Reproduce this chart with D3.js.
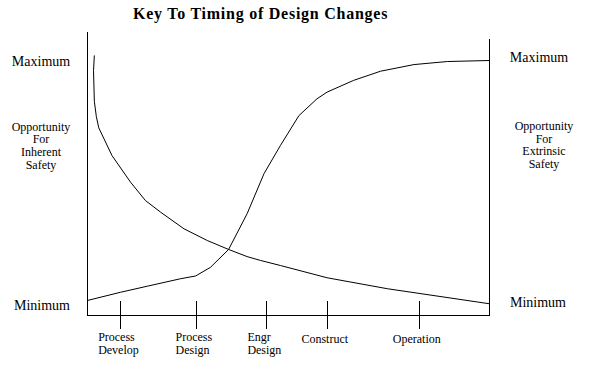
<!DOCTYPE html>
<html>
<head>
<meta charset="utf-8">
<script src="https://cdn.jsdelivr.net/npm/d3@7"></script>
<style>
    body { margin: 0; background: #fff; }
    svg { display: block; }
</style>
</head>
<body>
<svg></svg>
<script>
const width = 595;
const height = 372;

// Phase of the project, 0 = start of process development, 100 = end of operation
// Opportunity level, 0 = Minimum, 100 = Maximum
const inherent_x = [1.7, 1.5, 1.6, 1.7, 2.2, 2.8, 6.1, 10.7, 14.4, 18.2, 24.0, 29.8, 35.1, 39.7, 43.0, 48.0, 59.6, 74.6, 100];
const inherent_y = [102, 96, 90, 84, 78, 73.6, 62.7, 52.3, 45.1, 40.5, 34.0, 29.4, 25.9, 23.1, 21.6, 19.6, 14.8, 10.5, 4.6];

const extrinsic_x = [0, 8.2, 14.9, 23.1, 26.9, 30.6, 35.1, 39.7, 43.9, 48.0, 52.6, 57.1, 59.6, 66.2, 72.9, 81.2, 89.5, 100];
const extrinsic_y = [5.9, 9.1, 11.5, 14.4, 15.5, 18.9, 25.9, 39.9, 55.6, 66.7, 78.4, 85.0, 87.6, 92.2, 95.8, 98.4, 99.6, 100];

// Project phases along the bottom
const phase_values = [8.2, 27.0, 44.5, 59.6, 82.4];
const phase_labels = [["Process", "Develop"], ["Process", "Design"], ["Engr", "Design"], ["Construct"], ["Operation"]];

const side_labels_left = ["Opportunity", "For", "Inherent", "Safety"];
const side_labels_right = ["Opportunity", "For", "Extrinsic", "Safety"];

const svg = d3.select("svg")
    .attr("width", width)
    .attr("height", height)
    .attr("viewBox", `0 0 ${width} ${height}`)
    .attr("font-family", "'Liberation Serif', 'Times New Roman', serif");

const x = d3.scaleLinear().domain([0, 100]).range([87.5, 489.5]);
const y = d3.scaleLinear().domain([0, 100]).range([315.5, 60.5]);

draw_title();
draw_frame();
draw_curves();
draw_side_labels();

function draw_title() {
    svg.append("text")
        .attr("x", 133)
        .attr("y", 19)
        .attr("font-size", "16px")
        .attr("font-weight", "bold")
        .attr("letter-spacing", "0.75px")
        .text("Key To Timing of Design Changes");
}

function draw_frame() {
    const g = svg.append("g")
        .attr("stroke", "#000")
        .attr("stroke-width", 1)
        .attr("shape-rendering", "crispEdges");

    // left and right uprights, bottom baseline
    g.append("line").attr("x1", x(0)).attr("x2", x(0)).attr("y1", 31.5).attr("y2", y(0));
    g.append("line").attr("x1", x(100)).attr("x2", x(100)).attr("y1", 38.5).attr("y2", y(0));
    g.append("line").attr("x1", x(0)).attr("x2", x(100)).attr("y1", y(0)).attr("y2", y(0));

    // phase ticks cross the baseline
    g.selectAll(".tick")
        .data(phase_values)
        .join("line")
        .attr("x1", d => Math.round(x(d)) + 0.5)
        .attr("x2", d => Math.round(x(d)) + 0.5)
        .attr("y1", y(0) - 15)
        .attr("y2", y(0) + 13);

    // phase labels, each block centred under its tick
    phase_values.forEach(function(v, i) {
        const lines = phase_labels[i];
        const base = lines.length > 1 ? 340.5 : 343;
        const block = svg.append("g").attr("font-size", "12px");
        lines.forEach(function(s, j) {
            block.append("text")
                .attr("y", base + j * 13)
                .text(s);
        });
        const w = block.node().getBBox().width;
        block.selectAll("text").attr("x", x(v) - 2 - w / 2);
    });
}

function draw_curves() {
    const line = d3.line()
        .x(d => x(d[0]))
        .y(d => y(d[1]))
        .curve(d3.curveLinear);

    const inherent = d3.zip(inherent_x, inherent_y);
    const extrinsic = d3.zip(extrinsic_x, extrinsic_y);

    svg.selectAll(".curve")
        .data([inherent, extrinsic])
        .join("path")
        .attr("fill", "none")
        .attr("stroke", "#000")
        .attr("stroke-width", 1)
        .attr("d", line);
}

function draw_side_labels() {
    // Maximum / Minimum marks either side
    svg.append("text").attr("x", 41).attr("y", 66).attr("text-anchor", "middle")
        .attr("font-size", "14px").text("Maximum");
    svg.append("text").attr("x", 42).attr("y", 310).attr("text-anchor", "middle")
        .attr("font-size", "14px").text("Minimum");
    svg.append("text").attr("x", 539).attr("y", 62).attr("text-anchor", "middle")
        .attr("font-size", "14px").text("Maximum");
    svg.append("text").attr("x", 538).attr("y", 307).attr("text-anchor", "middle")
        .attr("font-size", "14px").text("Minimum");

    svg.append("g")
        .attr("text-anchor", "middle")
        .attr("font-size", "12px")
        .selectAll("text")
        .data(side_labels_left)
        .join("text")
        .attr("x", 41)
        .attr("y", (d, i) => 130.5 + i * 12.7)
        .text(d => d);

    svg.append("g")
        .attr("text-anchor", "middle")
        .attr("font-size", "12px")
        .selectAll("text")
        .data(side_labels_right)
        .join("text")
        .attr("x", 544)
        .attr("y", (d, i) => 130 + i * 12.7)
        .text(d => d);
}
</script>
</body>
</html>
